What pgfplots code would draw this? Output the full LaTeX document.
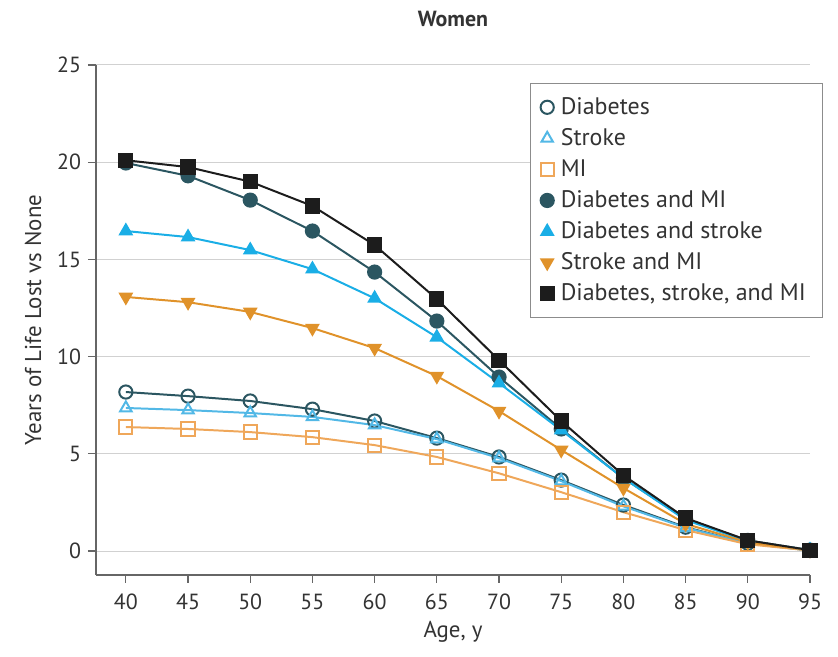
\documentclass[border=0pt]{standalone}
\usepackage{pgfplots}
\pgfplotsset{compat=1.18}
\usetikzlibrary{calc}
\usepackage{fontspec}
\setmainfont{PT Sans}
\definecolor{dteal}{HTML}{2B5661}
\definecolor{blk}{HTML}{1C1C1C}
\definecolor{cyanb}{HTML}{1AAEE6}
\definecolor{lblue}{HTML}{52B8E6}
\definecolor{orng}{HTML}{E0922A}
\definecolor{lorng}{HTML}{EFA75A}
\definecolor{txt}{HTML}{333333}
\begin{document}
\begin{tikzpicture}
\begin{axis}[
  name=ax,
  scale only axis,
  width=357bp, height=255bp,
  xmin=37.6, xmax=95, ymin=-1.23, ymax=25,
  axis lines*=left,
  axis line style={draw=black!60, line width=0.6pt},
  xtick={40,45,...,95}, ytick={0,5,...,25},
  tick align=outside, tick style={black!60, line width=0.6pt}, major tick length=4bp,
  ymajorgrids, grid style={black!18, line width=0.5pt},
  tick label style={font=\fontsize{11}{13}\selectfont, text=txt},
  xticklabel style={yshift=-2bp},
  /pgf/number format/assume math mode=true,
  xlabel={Age, y}, ylabel={Years of Life Lost vs None},
  label style={font=\fontsize{11.5}{13}\selectfont, text=txt},
  xlabel style={at={(0.5,0)}, anchor=center, yshift=-28.5bp},
  ylabel style={at={(0,0.5)}, anchor=center, yshift=31.5bp},
  title={\textbf{Women}}, title style={font=\fontsize{11}{13}\selectfont, text=txt, at={(0.5,1)}, anchor=center, yshift=17bp},
  legend style={at={(0.608,0.965)}, anchor=north west, draw=black!45, line width=0.5pt,
    font=\fontsize{12}{14}\selectfont, text=txt, row sep=1.6bp, inner xsep=5bp, inner ysep=5bp,
    nodes={inner xsep=3.5bp}},
  legend cell align=left,
  legend image code/.code={\draw[#1] plot[only marks] coordinates {(0.12cm,0cm)};},
  every axis plot/.append style={line width=1pt, mark size=3.3bp, mark options={line width=1pt}},
]
\addplot[color=dteal, mark=o, mark options={fill=white}] coordinates {(40,8.18)(45,7.97)(50,7.72)(55,7.3)(60,6.69)(65,5.81)(70,4.84)(75,3.65)(80,2.37)(85,1.23)(90,0.4)(95,0.03)};
\addlegendentry{Diabetes}
\addplot[color=lblue, mark=triangle, mark options={fill=white}] coordinates {(40,7.36)(45,7.25)(50,7.1)(55,6.9)(60,6.48)(65,5.76)(70,4.78)(75,3.6)(80,2.3)(85,1.2)(90,0.4)(95,0.03)};
\addlegendentry{Stroke}
\addplot[color=lorng, mark=square, mark options={fill=white}] coordinates {(40,6.38)(45,6.28)(50,6.12)(55,5.86)(60,5.45)(65,4.84)(70,4.0)(75,3.03)(80,2.0)(85,1.08)(90,0.35)(95,0.03)};
\addlegendentry{MI}
\addplot[color=dteal, mark=*] coordinates {(40,19.96)(45,19.3)(50,18.05)(55,16.46)(60,14.35)(65,11.83)(70,8.95)(75,6.28)(80,3.75)(85,1.65)(90,0.55)(95,0.05)};
\addlegendentry{Diabetes and MI}
\addplot[color=cyanb, mark=triangle*] coordinates {(40,16.46)(45,16.15)(50,15.48)(55,14.5)(60,13.0)(65,11.0)(70,8.64)(75,6.22)(80,3.75)(85,1.6)(90,0.5)(95,0.05)};
\addlegendentry{Diabetes and stroke}
\addplot[color=orng, mark=triangle*, mark options={rotate=180}] coordinates {(40,13.07)(45,12.8)(50,12.3)(55,11.47)(60,10.44)(65,9.0)(70,7.2)(75,5.2)(80,3.24)(85,1.4)(90,0.45)(95,0.05)};
\addlegendentry{Stroke and MI}
\addplot[color=blk, mark=square*] coordinates {(40,20.1)(45,19.75)(50,19.0)(55,17.75)(60,15.74)(65,12.96)(70,9.82)(75,6.69)(80,3.9)(85,1.7)(90,0.55)(95,0.05)};
\addlegendentry{Diabetes, stroke, and MI}
\end{axis}
\pgfresetboundingbox
\path[use as bounding box] ($(ax.south west)+(-48bp,-41bp)$) rectangle ++(419bp,328.5bp);
\end{tikzpicture}
\end{document}
